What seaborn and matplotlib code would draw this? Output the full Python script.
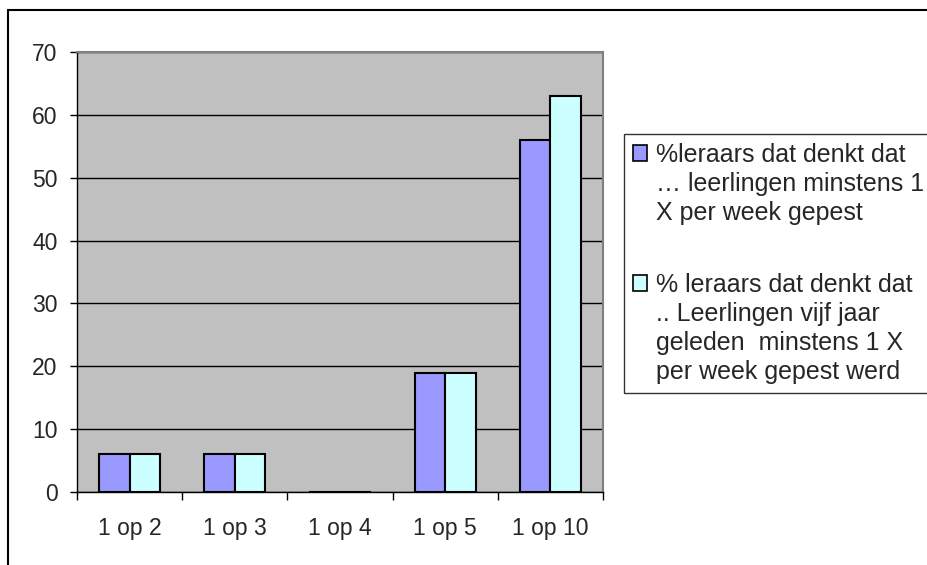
import pandas as pd
import matplotlib.pyplot as plt
import seaborn as sns
from matplotlib.patches import Rectangle
from matplotlib.lines import Line2D

# chart data
categories = ['1 op 2', '1 op 3', '1 op 4', '1 op 5', '1 op 10']
nu = [6, 6, 0, 19, 56]
vijf_jaar_geleden = [6, 6, 0, 19, 63]
series_names = ['%leraars dat denkt dat\n… leerlingen minstens 1\nX per week gepest',
                '% leraars dat denkt dat\n.. Leerlingen vijf jaar\ngeleden  minstens 1 X\nper week gepest werd']
colors = ['#9999FF', '#CCFFFF']

df = pd.DataFrame({
    'categorie': categories * 2,
    'waarde': nu + vijf_jaar_geleden,
    'serie': [series_names[0]] * len(categories) + [series_names[1]] * len(categories),
})

sns.set_style('white')
plt.rcParams['font.family'] = ['Liberation Sans', 'DejaVu Sans']
plt.rcParams['font.size'] = 16.5

fig = plt.figure(figsize=(9.28, 5.65), dpi=100)
ax = fig.add_axes([77 / 928, 1 - 492 / 565, (603 - 77) / 928, (492 - 52) / 565])

sns.barplot(data=df, x='categorie', y='waarde', hue='serie', palette=colors,
            width=0.58, gap=0, edgecolor='black', linewidth=1.5,
            saturation=1, legend=False, ax=ax, zorder=3)

# axes look (Excel style)
ax.set_facecolor('#C0C0C0')
ax.set_xlim(-0.5, len(categories) - 0.5)
ax.set_ylim(0, 70)
ax.set_yticks(range(0, 80, 10))
ax.set_xticks(range(len(categories)))
ax.set_xticklabels(categories)
ax.set_xticks([i - 0.5 for i in range(len(categories) + 1)], minor=True)
ax.set_xlabel('')
ax.set_ylabel('')
ax.yaxis.grid(True, color='black', linewidth=1)
ax.set_axisbelow(True)
ax.tick_params(axis='y', length=5, width=1, pad=9, color='black', left=True)
ax.tick_params(axis='x', which='major', length=0, pad=18, bottom=True)
ax.tick_params(axis='x', which='minor', length=6, width=1, color='black', bottom=True)
for side in ['left', 'bottom']:
    ax.spines[side].set_color('black')
    ax.spines[side].set_linewidth(1)
for side in ['top', 'right']:
    ax.spines[side].set_color('#808080')
    ax.spines[side].set_linewidth(1.5)

# legend, one row per text line so the swatch sits by the first line
handles, labels = [], []
spacer_rows = []
for i, (name, c) in enumerate(zip(series_names, colors)):
    for j, line in enumerate(name.split('\n')):
        if j == 0:
            handles.append(Rectangle((0, 0), 1, 1, facecolor=c, edgecolor='black', linewidth=1.2))
        else:
            handles.append(Rectangle((0, 0), 1, 1, fill=False, edgecolor='none'))
        labels.append(line)
    if i == 0:
        # spacer row between the two entries
        spacer_rows.append(len(labels))
        handles.append(Rectangle((0, 0), 1, 1, fill=False, edgecolor='none'))
        labels.append(' ')

leg = fig.legend(handles, labels, loc='upper left', bbox_to_anchor=(624 / 928, 1 - 134 / 565),
                 bbox_transform=fig.transFigure, frameon=True, fancybox=False,
                 edgecolor='black', handlelength=0.56, handleheight=0.6,
                 handletextpad=0.36, labelspacing=0.2, borderpad=0.36,
                 borderaxespad=0, fontsize=18)
leg.get_frame().set_linewidth(1)
for k in spacer_rows:
    leg.get_texts()[k].set_fontsize(29)

# outer chart border
fig.add_artist(Line2D([8 / 928, 1], [1 - 10 / 565, 1 - 10 / 565], transform=fig.transFigure,
                      color='black', linewidth=1.5))
fig.add_artist(Line2D([8 / 928, 8 / 928], [0, 1 - 10 / 565], transform=fig.transFigure,
                      color='black', linewidth=1.5))

fig.savefig('out.png', dpi=100)
